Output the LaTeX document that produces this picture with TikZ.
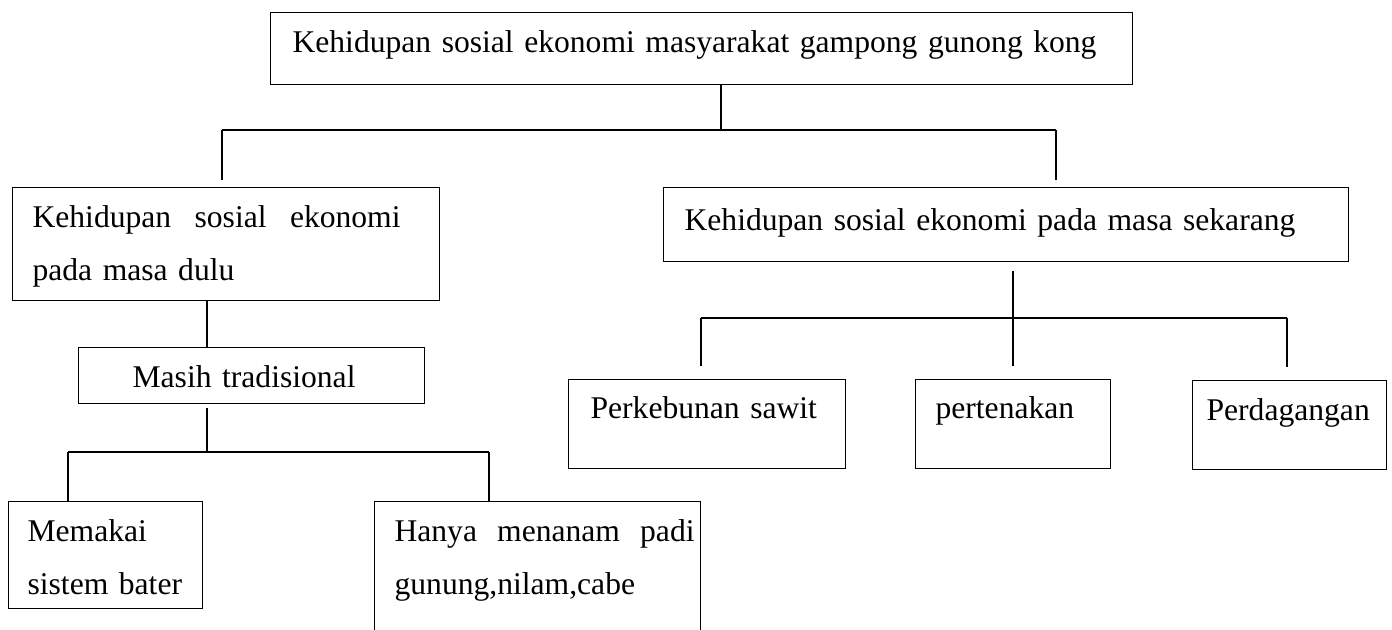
\documentclass[tikz,border=0pt]{standalone}
\usepackage{fontspec}
\setmainfont{Liberation Serif}
\tikzset{kotak/.style={draw,line width=0.6pt,anchor=north west,inner ysep=0pt,align=left,
  font=\fontsize{15.8pt}{26.5pt}\selectfont}}

\begin{document}
\begin{tikzpicture}[x=0.5pt,y=-0.5pt,line width=0.9pt]
            \clip(0,0)rectangle(1392,630);
            \node[kotak,inner xsep=11pt,text width=409pt,text height=20pt,text depth=16pt](utama) at (270,12){Kehidupan sosial ekonomi masyarakat gampong gunong kong};
            \node[kotak,inner xsep=10pt,text width=193.5pt,text height=20pt,text depth=36.5pt](dulu) at (12,187){\makebox[184pt][s]{Kehidupan\hfill sosial\hfill ekonomi}\\pada masa dulu};
            \node[kotak,inner xsep=10.5pt,text width=321.5pt,text height=21.5pt,text depth=15.5pt](sekarang) at (663,187){Kehidupan sosial ekonomi pada masa sekarang};
            \node[kotak,inner xsep=27pt,text width=119pt,text height=20pt,text depth=8pt](masih) at (78,347){Masih tradisional};
            \node[kotak,inner xsep=9.5pt,text width=78pt,text height=20pt,text depth=33.5pt](memakai) at (8,501){Memakai\\sistem bater};
            \node[kotak,inner xsep=10pt,text width=143pt,text height=20pt,text depth=54.5pt](hanya) at (374,501){\makebox[143pt][l]{\makebox[150pt][s]{Hanya\hfill menanam\hfill padi}}\\gunung,nilam,cabe};
            \node[kotak,inner xsep=11pt,text width=116.5pt,text height=19.5pt,text depth=25pt](kebun) at (568,379){Perkebunan sawit};
            \node[kotak,inner xsep=10pt,text width=77.5pt,text height=19.5pt,text depth=25pt](ternak) at (915,379){pertenakan};
            \node[kotak,inner xsep=7pt,text width=83pt,text height=20pt,text depth=24.5pt](dagang) at (1192,380){Perdagangan};
            % cabang atas
            \coordinate(t1) at (721,130);
            \coordinate(t2) at (222,130);
            \coordinate(t3) at (1056,130);
            \draw(utama.south -| t1)--(t1);
            \draw(t2)--(t3);
            \draw[shorten >=3.5pt](t2)--(t2 |- dulu.north);
            \draw[shorten >=3.5pt](t3)--(t3 |- sekarang.north);
            % cabang kiri
            \coordinate(k1) at (207,452);
            \coordinate(k2) at (68,452);
            \coordinate(k3) at (489,452);
            \draw(dulu.south -| k1)--(k1 |- masih.north);
            \draw[shorten <=2pt](masih.south -| k1)--(k1);
            \draw(k2)--(k3);
            \draw(k2)--(k2 |- memakai.north);
            \draw(k3)--(k3 |- hanya.north);
            % cabang kanan
            \coordinate(r1) at (1013,318);
            \coordinate(r2) at (701,318);
            \coordinate(r3) at (1287,318);
            \draw[shorten <=4.5pt](sekarang.south -| r1)--(r1);
            \draw(r2)--(r3);
            \draw[shorten >=6.5pt](r2)--(r2 |- kebun.north);
            \draw[shorten >=6.5pt](r1)--(r1 |- ternak.north);
            \draw[shorten >=6.5pt](r3)--(r3 |- dagang.north);
\end{tikzpicture}
\end{document}
